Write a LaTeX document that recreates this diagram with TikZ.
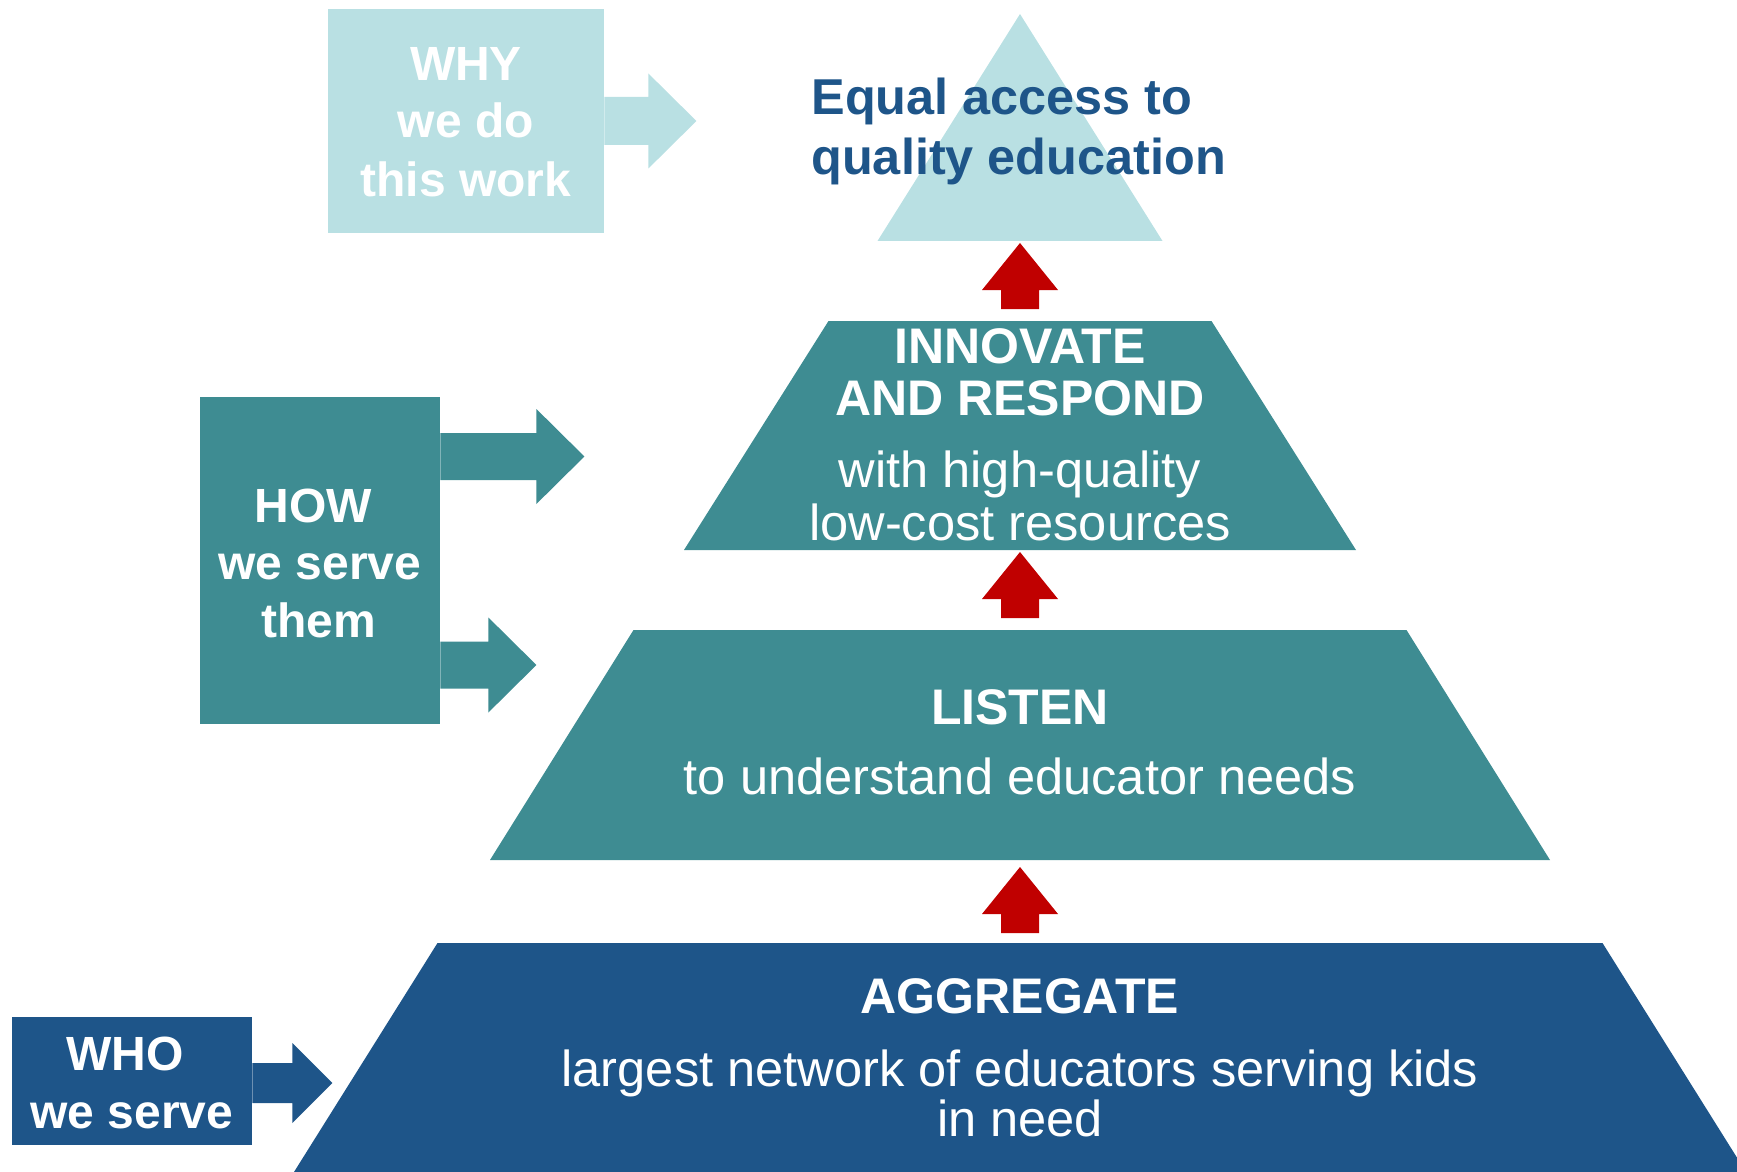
\documentclass[tikz,border=0pt]{standalone}
\usepackage{fontspec}
\setmainfont{Liberation Sans}
\usepackage{tikz}
\usetikzlibrary{positioning,calc}
\definecolor{paleteal}{RGB}{185,224,227}
\definecolor{midteal}{RGB}{62,140,146}
\definecolor{deepblue}{RGB}{30,85,137}
\definecolor{arrowred}{RGB}{192,0,0}
% red arrow pointing up, tip at #1
\newcommand{\redup}[1]{\fill[arrowred] (#1) -- ++(38,47) -- ++(-19,0) -- ++(0,19) -- ++(-38,0) -- ++(0,-19) -- ++(-19,0) -- cycle;}
% block arrow pointing right: colour, start, shaft length, shaft half, head half, head length
\newcommand{\blockright}[6]{\fill[#1] (#2) ++(0,-#4) -- ++(#3,0) -- ++(0,{#4-#5}) -- ++(#6,#5) -- ++(-#6,#5) -- ++(0,{#4-#5}) -- ++(-#3,0) -- cycle;}

\begin{document}
\begin{tikzpicture}
  [%
 x=0.5pt, y=-0.5pt,
 sidebox/.style={
  rectangle,
  inner sep=0pt,
  minimum width=120pt},
 boxtext/.style={
  anchor=base,
  inner sep=0pt,
  text=white,
  font=\fontsize{24}{28}\selectfont\bfseries},
 lvlhead/.style={
  anchor=base,
  inner sep=0pt,
  text=white,
  font=\fontsize{25}{30}\selectfont\bfseries},
 lvltext/.style={
  anchor=base,
  inner sep=0pt,
  text=white,
  font=\fontsize{25.3}{30}\selectfont},
 goaltext/.style={
  anchor=base west,
  inner sep=0pt,
  text=deepblue,
  font=\fontsize{25.2}{30}\selectfont\bfseries}]
\useasboundingbox (0,0) rectangle (1737,1172);
\clip (0,0) rectangle (1737,1172);
% pyramid
\fill[paleteal] (1020,14) -- (1162.5,241) -- (877.5,241) -- cycle;
\fill[midteal] (828.5,321) -- (1211.5,321) -- (1356,550) -- (684,550) -- cycle;
\fill[midteal] (633.5,630) -- (1406.5,630) -- (1550,860) -- (490,860) -- cycle;
\fill[deepblue] (437.5,943) -- (1602.5,943) -- (1746,1172) -- (294,1172) -- cycle;
\coordinate (tipgoal) at (1020,243);
\coordinate (tipinnovate) at (1020,552);
\coordinate (tiplisten) at (1020,867);
\redup{tipgoal}
\redup{tipinnovate}
\redup{tiplisten}
\node (goal1) [goaltext] at (811,115) {Equal access to};
\node (goal2) [goaltext] at (811,175) {quality education};
\node (innovate1) [lvlhead] at (1020,363) {INNOVATE};
\node (innovate2) [lvlhead] at (1020,415) {AND RESPOND};
\node (innovate3) [lvltext] at (1020,487) {with high-quality};
\node (innovate4) [lvltext] at (1020,540) {low-cost resources};
\node (listen1) [lvlhead] at (1020,724) {LISTEN};
\node (listen2) [lvltext] at (1020,794) {to understand educator needs};
\node (aggregate1) [lvlhead] at (1020,1013) {AGGREGATE};
\node (aggregate2) [lvltext] at (1020,1086) {largest network of educators serving kids};
\node (aggregate3) [lvltext] at (1020,1136) {in need};
% side boxes
\node (why) [sidebox, fill=paleteal, minimum width=138pt, minimum height=112pt] at (466,121) {};
\node (how) [sidebox, fill=midteal, minimum height=163.5pt] at (320,560.5) {};
\node (who) [sidebox, fill=deepblue, minimum height=64pt] at (132,1081) {};
\blockright{paleteal}{why.east}{44}{24}{47.5}{48}
\blockright{midteal}{$(how.east)+(0,-104)$}{96}{23.5}{47.5}{48}
\blockright{midteal}{$(how.east)+(0,104.5)$}{48}{23.5}{47.5}{48}
\blockright{deepblue}{$(who.east)+(0,2)$}{40}{20}{40}{40}
\node (why1) [boxtext] at (466,81) {WHY};
\node (why2) [boxtext] at (466,138) {we do};
\node (why3) [boxtext] at (466,197) {this work};
\node (how1) [boxtext] at (313,522) {HOW};
\node (how2) [boxtext] at (320,579) {we serve};
\node (how3) [boxtext] at (319,637) {them};
\node (who1) [boxtext] at (125,1070) {WHO};
\node (who2) [boxtext] at (132,1128) {we serve};
\end{tikzpicture}
\end{document}
